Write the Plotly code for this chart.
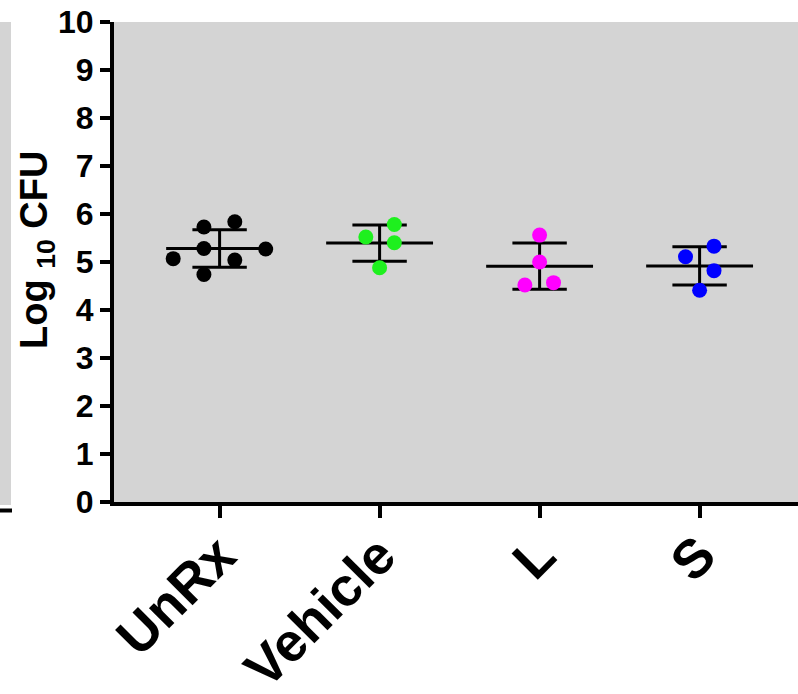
import numpy as np
import plotly.graph_objects as go

# Group labels and measured log10 CFU values
groups = ["UnRx", "Vehicle", "L", "S"]
unrx = [5.84, 5.73, 5.28, 5.27, 5.07, 5.04, 4.74]
vehicle = [5.78, 5.52, 5.40, 4.88]
l_grp = [5.56, 5.00, 4.52, 4.57]
s_grp = [5.33, 5.11, 4.82, 4.41]
y_ticks = list(range(0, 11))

# Horizontal scatter spread for each point (category units)
spread = [
    [0.095, -0.098, -0.098, 0.288, -0.29, 0.095, -0.098],
    [0.092, -0.086, 0.092, 0.0],
    [0.0, 0.0, -0.092, 0.087],
    [0.09, -0.088, 0.09, 0.0],
]
colors = ["#000000", "#1ef01e", "#ff00ff", "#0000ff"]

FONT = "Liberation Sans, Arial, sans-serif"
W, H = 798, 694
L_M, R_M, T_M, B_M = 114, 0, 22, 192
PW, PH = W - L_M - R_M, H - T_M - B_M

def px_x(p):
    return (p - L_M) / PW

def px_y(p):
    return (H - B_M - p) / PH

fig = go.Figure()

series = [unrx, vehicle, l_grp, s_grp]
mean_half, cap_half = 0.334, 0.17
for i, vals in enumerate(series):
    v = np.array(vals)
    m, sd = v.mean(), v.std(ddof=1)
    # mean line, SD caps and connecting whisker
    xs = [i - mean_half, i + mean_half, None,
          i - cap_half, i + cap_half, None,
          i - cap_half, i + cap_half, None,
          i, i]
    ys = [m, m, None, m + sd, m + sd, None, m - sd, m - sd, None, m + sd, m - sd]
    fig.add_trace(go.Scatter(x=xs, y=ys, mode="lines",
                             line=dict(color="black", width=3),
                             hoverinfo="skip", showlegend=False))

for i, vals in enumerate(series):
    fig.add_trace(go.Scatter(
        x=[i + d for d in spread[i]], y=vals, mode="markers",
        marker=dict(color=colors[i], size=15, line=dict(width=0)),
        name=groups[i], showlegend=False))

# partial neighbouring panel on the left edge
fig.add_shape(type="rect", xref="paper", yref="paper",
              x0=px_x(0), x1=px_x(11), y0=px_y(505), y1=px_y(22),
              fillcolor="#d4d4d4", line=dict(width=0), layer="below")
fig.add_shape(type="line", xref="paper", yref="paper",
              x0=px_x(0), x1=px_x(12), y0=px_y(510.5), y1=px_y(510.5),
              line=dict(color="black", width=4))

# y-axis title
fig.add_annotation(text="Log <sub>10</sub> CFU", textangle=-90,
                   xref="paper", yref="paper", x=px_x(37), y=px_y(250),
                   xanchor="center", yanchor="middle", showarrow=False,
                   font=dict(size=38, family=FONT, weight="bold", color="black"))

fig.update_layout(
    width=W, height=H,
    margin=dict(l=L_M, r=R_M, t=T_M, b=B_M, autoexpand=False),
    paper_bgcolor="white", plot_bgcolor="#d4d4d4",
    font=dict(family=FONT, color="black"),
    xaxis=dict(
        range=[-0.66, 3.615], tickmode="array",
        tickvals=list(range(len(groups))), ticktext=groups,
        tickangle=-45, tickfont=dict(size=54, family=FONT, weight="bold"),
        ticklabelstandoff=-16,
        showline=True, linewidth=4, linecolor="black",
        ticks="outside", ticklen=12, tickwidth=4, tickcolor="black",
        showgrid=False, zeroline=False, automargin=False),
    yaxis=dict(
        range=[0, 10], tickmode="array", tickvals=y_ticks,
        ticktext=[str(t) for t in y_ticks],
        tickfont=dict(size=32, family=FONT, weight="bold"),
        showline=True, linewidth=4, linecolor="black",
        ticks="outside", ticklen=10, tickwidth=4, tickcolor="black",
        showgrid=False, zeroline=False, automargin=False),
)

fig.write_html("out.html")
